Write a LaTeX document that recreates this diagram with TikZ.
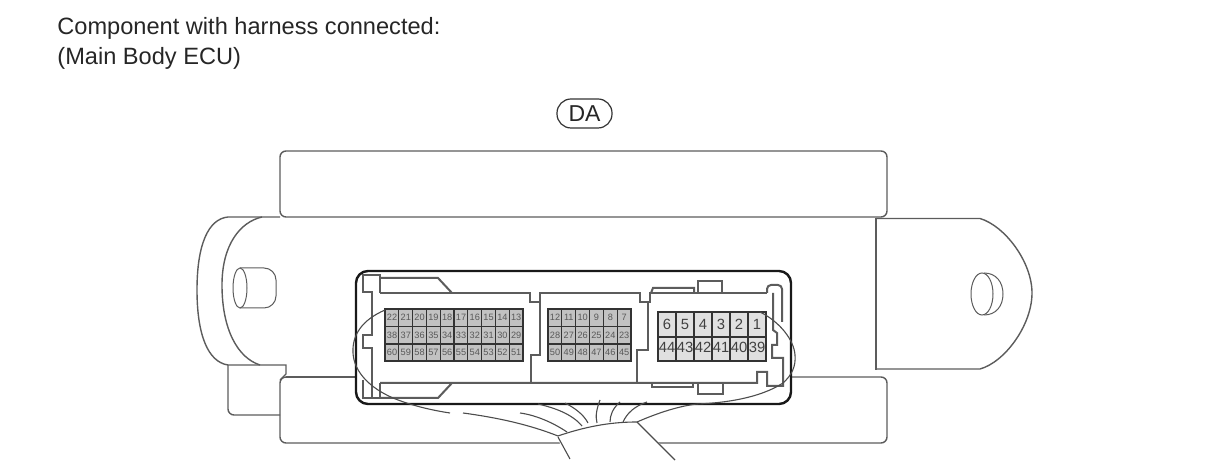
\documentclass[tikz,border=0pt]{standalone}
\usepackage{fontspec}
\setmainfont{Liberation Sans}
\definecolor{lineclr}{gray}{0.36}
\definecolor{cellclr}{gray}{0.76}
\tikzset{
  body/.style={draw=lineclr,line width=0.7pt},
  fine/.style={draw=lineclr,line width=0.5pt},
  shell/.style={draw=black!90,line width=1.2pt},
  clip part/.style={draw=lineclr,line width=1pt},
  grid/.style={draw=black!80,line width=0.6pt},
  wire/.style={draw=black!70,line width=0.55pt},
  caption/.style={anchor=base west,inner sep=0pt,text=black!85,font=\fontsize{11.8pt}{13pt}\selectfont},
  pin small/.style={inner sep=0pt,text=black!65,font=\fontsize{4.6pt}{5pt}\selectfont},
  pin big/.style={inner sep=0pt,text=black!75,font=\fontsize{7.4pt}{8pt}\selectfont}
}
\begin{document}
\begin{tikzpicture}[x=0.5pt,y=-0.5pt]
   \useasboundingbox (0,0) rectangle (1210,474);
   % caption
   \node[caption] (title) at (57,35) {Component with harness connected:};
   \node[caption] (subtitle) at (57,65) {(Main Body ECU)};
   \node[draw=black!80,line width=0.6pt,rounded corners=7pt,minimum width=27.5pt,minimum height=14.5pt,inner sep=0pt,
     text=black!85,font=\fontsize{11.5pt}{13pt}\selectfont] (tag) at (584.5,113.5) {DA};
   % upper and lower housing
   \draw[body,rounded corners=3pt] (280,217) rectangle (887,151);
   \draw[body,rounded corners=3pt] (280,377) rectangle (887,443);
   % left bracket
   \draw[body] (280,217) -- (228,217) .. controls (208,219) and (197,245) .. (197,290)
     .. controls (197,335) and (208,362) .. (228,365) -- (286,365) -- (286,374)
     -- (280,380);
   \draw[body] (262,217) .. controls (240,222) and (222,245) .. (222,285)
     .. controls (222,330) and (238,358) .. (260,365);
   \draw[body] (286,377) -- (356,377);
   \draw[body,rounded corners=3pt] (228,365) -- (228,415) -- (280,415);
   % left hole
   \draw[fine] (240,288) ellipse[x radius=7,y radius=20];
   \draw[fine,rounded corners=6pt] (240,268) -- (276,268) -- (276,308) -- (240,308);
   % right bracket
   \draw[body] (876,218) -- (876,370);
   \draw[body] (876,218.5) -- (980,218.5) .. controls (1005,226) and (1032,262) .. (1032,293)
     .. controls (1032,325) and (1005,362) .. (980,369) -- (876,369);
   % right hole
   \draw[fine] (982,294) ellipse[x radius=11,y radius=21];
   \draw[fine] (984,273) .. controls (996,273) and (1003,282) .. (1003,294)
     .. controls (1003,306) and (996,315) .. (984,315);
   % connector shell
   \draw[shell,fill=white,rounded corners=6pt] (356,271) rectangle (791,404);
   % upper clip line
   \draw[clip part] (380,293) -- (530,293) -- (530,302) -- (540,302) -- (540,293) -- (640,293)
     -- (640,302) -- (650,302) -- (650,293) -- (698,293) -- (767,293);
   \draw[clip part] (452,293) -- (438,278) -- (380,278);
   \draw[clip part] (380,293) -- (380,275) -- (363,275) -- (363,292) -- (372,292) -- (372,335)
     -- (363,335) -- (363,348) -- (372,348) -- (372,398);
   \draw[clip part] (363,380) -- (363,398) -- (380,398) -- (380,383);
   \draw[clip part] (380,383) -- (757,383) -- (757,372) -- (767,372) -- (767,386) -- (783,386)
     -- (783,358) -- (772,358) -- (772,345) -- (777,345) -- (777,333) -- (773,330) -- (773,293);
   \draw[clip part] (452,383) -- (438,398) -- (380,398);
   % partitions
   \draw[clip part] (540,302) -- (540,355) -- (531,355) -- (531,383);
   \draw[clip part] (648,302) -- (648,350) -- (637,350) -- (637,383);
   % tabs
   \draw[clip part] (651,293) -- (653,288) -- (694,288) -- (694,293);
   \draw[clip part] (698,293) -- (698,281) -- (722,281) -- (722,293);
   \draw[clip part] (652,383) -- (652,387) -- (693,387) -- (693,383);
   \draw[clip part] (698,383) -- (698,394) -- (723,394) -- (723,383);
   \draw[clip part,rounded corners=2pt] (767,293) -- (767,285) -- (782,285) -- (782,322);
   % left terminal block
   \fill[cellclr] (385,309) rectangle (523,361);
   \foreach \i [count=\c from 0] in {22,21,20,19,18,17,16,15,14,13} {
     \node[pin small] (a\i) at ({392+13.8*\c},317.5) {\i};
   }
   \foreach \i [count=\c from 0] in {38,37,36,35,34,33,32,31,30,29} {
     \node[pin small] (a\i) at ({392+13.8*\c},335) {\i};
   }
   \foreach \i [count=\c from 0] in {60,59,58,57,56,55,54,53,52,51} {
     \node[pin small] (a\i) at ({392+13.8*\c},352.5) {\i};
   }
   \draw[grid] (385,309) rectangle (523,361);
   \foreach \c in {1,...,9} \draw[grid] ({385+13.8*\c},309) -- ({385+13.8*\c},361);
   \draw[grid] (385,326.5) -- (523,326.5) (385,344) -- (523,344);
   % middle terminal block
   \fill[cellclr] (548,309) rectangle (631,361);
   \foreach \i [count=\c from 0] in {12,11,10,9,8,7} {
     \node[pin small] (b\i) at ({555+13.83*\c},317.5) {\i};
   }
   \foreach \i [count=\c from 0] in {28,27,26,25,24,23} {
     \node[pin small] (b\i) at ({555+13.83*\c},335) {\i};
   }
   \foreach \i [count=\c from 0] in {50,49,48,47,46,45} {
     \node[pin small] (b\i) at ({555+13.83*\c},352.5) {\i};
   }
   \draw[grid] (548,309) rectangle (631,361);
   \foreach \c in {1,...,5} \draw[grid] ({548+13.83*\c},309) -- ({548+13.83*\c},361);
   \draw[grid] (548,326.5) -- (631,326.5) (548,344) -- (631,344);
   % right terminal block
   \fill[black!12] (658,312) rectangle (766,361);
   \foreach \i [count=\c from 0] in {6,5,4,3,2,1} {
     \node[pin big] (c\i) at ({667+18*\c},324.5) {\i};
   }
   \foreach \i [count=\c from 0] in {44,43,42,41,40,39} {
     \node[pin big] (c\i) at ({667+18*\c},347.5) {\i};
   }
   \draw[grid] (658,312) rectangle (766,361);
   \foreach \c in {1,...,5} \draw[grid] ({658+18*\c},312) -- ({658+18*\c},361);
   \draw[grid] (658,337) -- (766,337);
   % white under the harness
   \fill[white] (558,436) .. controls (590,425) and (615,422) .. (637,422) -- (660,444) -- (560,444) -- cycle;
   % oval round the terminals
   \draw[wire] (385,310) .. controls (362,320) and (352,335) .. (353,353)
     .. controls (354,372) and (370,388) .. (393,398) .. controls (410,405) and (430,410) .. (450,413);
   \draw[wire] (463,413) .. controls (500,418) and (530,425) .. (558,436);
   \draw[wire] (558,436) .. controls (590,425) and (615,422) .. (637,422)
     .. controls (660,412) and (680,406) .. (697,404) .. controls (725,403) and (760,398) .. (783,383)
     .. controls (792,375) and (796,366) .. (795,355) .. controls (794,340) and (780,322) .. (760,312);
   % wires of the harness
   \draw[wire] (558,437) -- (570,459);
   \draw[wire] (637,422) -- (675,460);
   \draw[wire] (520,413) .. controls (535,415) and (552,422) .. (567,432);
   \draw[wire] (538,404) .. controls (555,408) and (572,414) .. (582,426);
   \draw[wire] (565,403) .. controls (575,408) and (584,415) .. (588,423);
   \draw[wire] (600,400) .. controls (597,408) and (595,416) .. (597,423);
   \draw[wire] (620,402) .. controls (613,408) and (610,415) .. (610,422);
   \draw[wire] (647,402) .. controls (635,406) and (627,413) .. (623,422);
\end{tikzpicture}
\end{document}
